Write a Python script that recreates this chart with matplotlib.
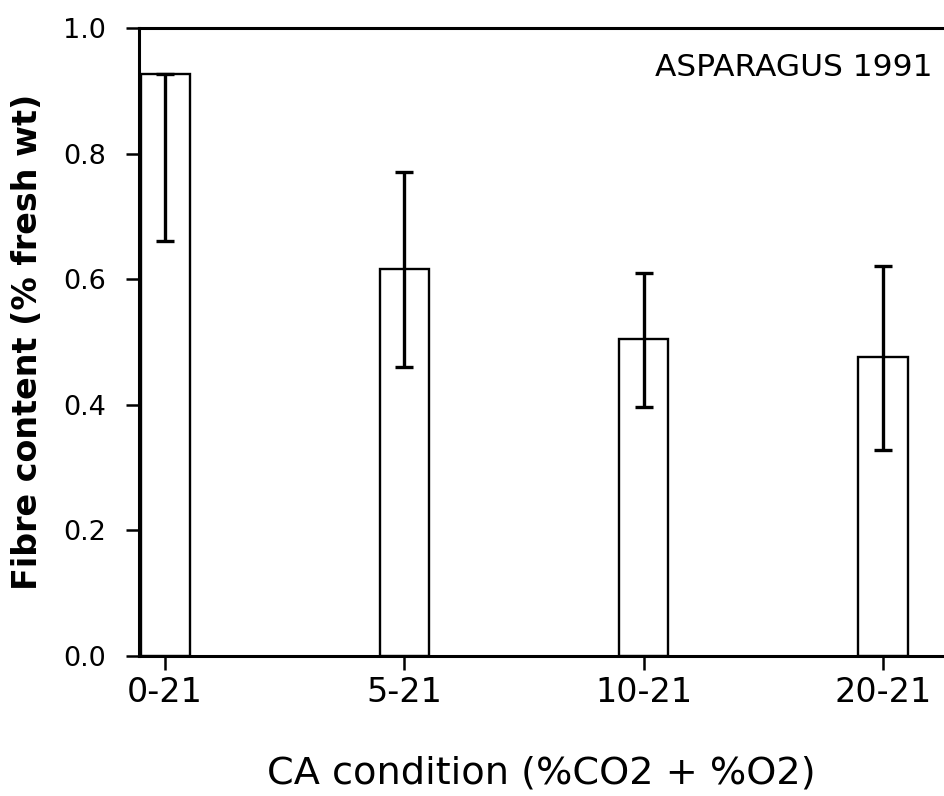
import numpy as np
import matplotlib
matplotlib.use('Agg')
import matplotlib.pyplot as plt

# CA conditions and fibre content
conditions = ['0-21', '5-21', '10-21', '20-21']
fibre = [0.927, 0.616, 0.504, 0.475]
err_low = [0.661, 0.460, 0.396, 0.327]
err_high = [0.927, 0.771, 0.610, 0.621]

plt.rcParams['font.family'] = ['DejaVu Sans']

fig = plt.figure(figsize=(9.44, 7.96), dpi=100)
ax = fig.add_axes([0.1472, 0.1765, 0.8528, 0.7883])

x = np.arange(len(conditions))
fibre_arr = np.array(fibre)
yerr = [fibre_arr - np.array(err_low), np.array(err_high) - fibre_arr]

ax.bar(x, fibre, width=0.205, color='white', edgecolor='black', linewidth=1.7, zorder=2)
ax.errorbar(x, fibre, yerr=yerr, fmt='none', ecolor='black', elinewidth=2.4,
            capsize=6.5, capthick=2.4, zorder=3)

ax.set_xlim(-0.109, 3.255)
ax.set_ylim(0, 1.0)
ax.set_xticks(x)
ax.set_xticklabels(conditions)
ax.set_yticks([0.0, 0.2, 0.4, 0.6, 0.8, 1.0])
ax.set_yticklabels(['0.0', '0.2', '0.4', '0.6', '0.8', '1.0'])

for side in ['left', 'bottom', 'top']:
    ax.spines[side].set_linewidth(2.2)
ax.spines['right'].set_visible(False)

ax.tick_params(axis='y', direction='out', length=9.5, width=1.8, pad=14, labelsize=19.5)
ax.tick_params(axis='x', direction='out', length=10, width=1.8, pad=5, labelsize=24)

ax.set_xlabel('CA condition (%CO2 + %O2)', fontsize=27.5, labelpad=33)
ax.set_ylabel('Fibre content (% fresh wt)', fontsize=24, fontweight='bold', labelpad=14)

ax.text(0.986, 0.937, 'ASPARAGUS 1991', transform=ax.transAxes, ha='right',
        va='center', fontsize=22.5)

fig.savefig('out.png', dpi=100)
